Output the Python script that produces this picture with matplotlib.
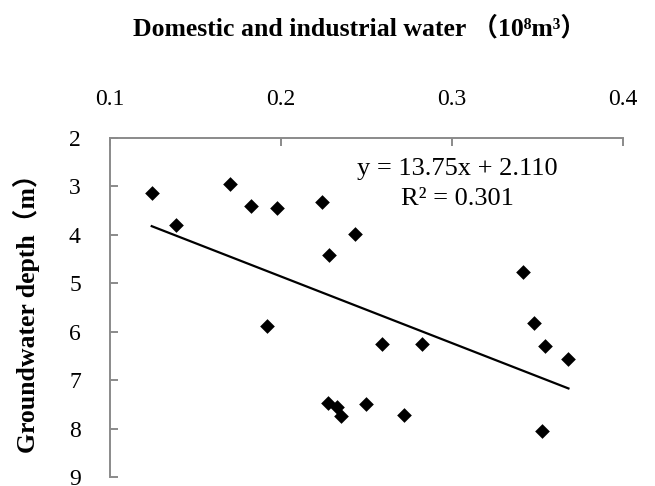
import matplotlib
matplotlib.use("Agg")
import matplotlib.pyplot as plt
import numpy as np

water = [0.1244, 0.1386, 0.1702, 0.1825, 0.1977, 0.2242, 0.2435, 0.2283, 0.1916,
         0.2277, 0.2326, 0.2349, 0.2497, 0.2719, 0.3524,
         0.3417, 0.3482, 0.3544, 0.3681, 0.2593, 0.2823]
depth = [3.14, 3.80, 2.94, 3.40, 3.45, 3.33, 3.98, 4.42, 5.88,
         7.47, 7.55, 7.74, 7.49, 7.73, 8.05,
         4.77, 5.83, 6.29, 6.57, 6.25, 6.25]
slope = 13.75
intercept = 2.110
r2 = 0.301
xticks = [0.1, 0.2, 0.3, 0.4]
yticks = [2, 3, 4, 5, 6, 7, 8, 9]

serif = ['Liberation Serif', 'DejaVu Serif', 'Noto Sans CJK SC']
plt.rcParams['font.family'] = serif

W, H = 655, 486
fig = plt.figure(figsize=(W/100, H/100), dpi=100)
L, R, T, B = 110, 623, 138, 477
ax = fig.add_axes([L/W, 1-B/H, (R-L)/W, (B-T)/H])

ax.scatter(water, depth, marker='D', s=56, color='black', zorder=3, linewidths=0)
xs = np.array([min(water), max(water)])
ax.plot(xs, slope*xs + intercept, color='black', lw=1.6, zorder=2)

ax.set_xlim(0.1, 0.4)
ax.set_ylim(9, 2)
ax.xaxis.set_ticks_position('top')
ax.set_xticks(xticks)
ax.set_xticklabels([f"{v:.1f}" for v in xticks])
ax.set_yticks(yticks)
ax.set_yticklabels([str(v) for v in yticks])

gray = '#8a8a8a'
for s in ['right', 'bottom']:
    ax.spines[s].set_visible(False)
for s in ['left', 'top']:
    ax.spines[s].set_color(gray)
    ax.spines[s].set_linewidth(1.4)
ax.tick_params(axis='both', which='major', direction='in', length=6, width=1.4,
               color=gray, labelsize=17)
ax.tick_params(axis='x', pad=20)
ax.tick_params(axis='y', pad=21)

fig.text(360/W, 1-28/H, 'Domestic and industrial water （10⁸m³）', fontsize=18.5,
         fontweight='bold', ha='center', va='center', family=serif)
fig.text(26/W, 1-((T+B)/2)/H, 'Groundwater depth（m）', fontsize=18.5,
         fontweight='bold', ha='center', va='center', rotation=90, family=serif)

ax.text(0.3032, 2.764, f"y = {slope:.2f}x + {intercept:.3f}", fontsize=19,
        ha='center', va='baseline', family=serif)
ax.text(0.3032, 3.383, f"R² = {r2:.3f}", fontsize=19,
        ha='center', va='baseline', family=serif)

fig.savefig('out.png', dpi=100)
